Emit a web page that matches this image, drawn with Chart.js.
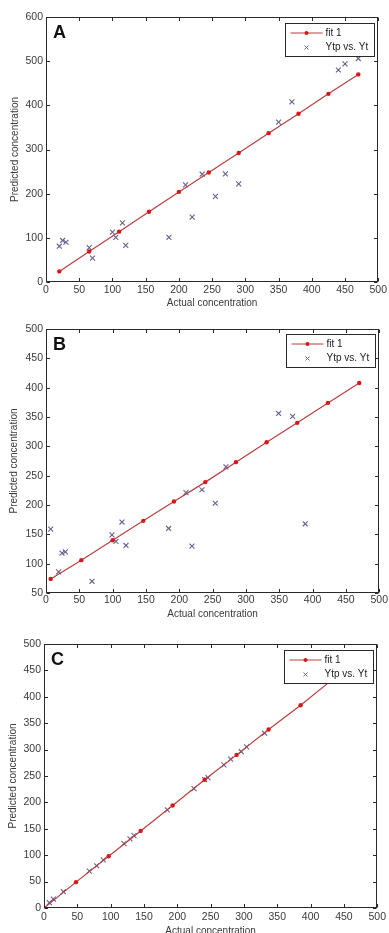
<!DOCTYPE html>
<html>
<head>
<meta charset="utf-8">
<script src="https://cdn.jsdelivr.net/npm/chart.js@4.4.1/dist/chart.umd.min.js"></script>
<style>
  html, body { margin: 0; padding: 0; background: #fff; overflow: hidden; }
  canvas { display: block; }
</style>
</head>
<body>
<canvas id="chart-a" width="389" height="310"></canvas>
<canvas id="chart-b" width="389" height="310"></canvas>
<canvas id="chart-c" width="389" height="320"></canvas>
<script>
const xTicks = [0, 50, 100, 150, 200, 250, 300, 350, 400, 450, 500];

// panel A
const aFitX = [20, 65, 110, 155, 200, 245, 290, 335, 380, 425, 470];
const aFitY = [24, 69, 114, 159, 204, 248, 292, 337, 381, 426, 470];
const aPtX = [20, 25, 30, 65, 70, 100, 105, 115, 120, 185, 210, 220, 235, 255, 270, 290, 350, 370, 440, 450, 470];
const aPtY = [81, 94, 90, 78, 54, 113, 101, 134, 83, 101, 220, 147, 244, 194, 245, 222, 362, 408, 480, 494, 506];

// panel B
const bFitX = [7, 53, 100, 146, 192, 239, 285, 331, 377, 423, 470];
const bFitY = [74, 106, 140, 173, 206, 239, 273, 307, 340, 374, 408];
const bPtX = [7, 19, 24, 29, 69, 99, 105, 114, 120, 184, 210, 219, 234, 254, 270, 349, 370, 389];
const bPtY = [159, 86, 118, 120, 70, 149, 138, 171, 131, 160, 221, 130, 226, 203, 265, 356, 351, 168];

// panel C
const cFitX = [0, 48, 97, 145, 193, 241, 289, 337, 385, 433, 481];
const cFitY = [0, 49, 98, 146, 194, 243, 290, 338, 384, 433, 481];
const cPtX = [8, 14, 29, 68, 79, 89, 120, 129, 135, 185, 225, 241, 246, 270, 280, 296, 304, 331];
const cPtY = [10, 17, 31, 70, 80, 91, 122, 131, 137, 186, 226, 243, 247, 271, 282, 296, 305, 331];

const fitLabel = 'fit 1';
const ptLabel = 'Ytp vs. Yt';

const FONT = 'Arial, "Liberation Sans", sans-serif';
const TEXT = '#3a3a3a';
const LINE_RED = '#b8403f';
const DOT_RED = '#d81818';
const CROSS = '#666090';

function toPoints(xs, ys) {
  return xs.map((x, i) => ({ x: x, y: ys[i] }));
}

// box, inward ticks, panel letter and matlab-like legend
const matlabFrame = {
  id: 'matlabFrame',
  afterDatasetsDraw(chart, args, opts) {
    const ctx = chart.ctx;
    const a = chart.chartArea;
    const L = Math.round(a.left) + 0.5;
    const R = Math.round(a.right) - 0.5;
    const T = Math.round(a.top) + 0.5;
    const B = Math.round(a.bottom) - 0.5;
    ctx.save();
    ctx.strokeStyle = '#2a2a2a';
    ctx.lineWidth = 1;
    ctx.strokeRect(L, T, R - L, B - T);

    const tl = 3.5;
    ctx.beginPath();
    chart.scales.x.ticks.forEach(t => {
      const px = Math.round(chart.scales.x.getPixelForValue(t.value)) + 0.5;
      ctx.moveTo(px, B); ctx.lineTo(px, B - tl);
      ctx.moveTo(px, T); ctx.lineTo(px, T + tl);
    });
    chart.scales.y.ticks.forEach(t => {
      const py = Math.round(chart.scales.y.getPixelForValue(t.value)) + 0.5;
      ctx.moveTo(L, py); ctx.lineTo(L + tl, py);
      ctx.moveTo(R, py); ctx.lineTo(R - tl, py);
    });
    ctx.stroke();

    // panel letter
    ctx.fillStyle = '#111';
    ctx.font = 'bold 18px ' + FONT;
    ctx.textBaseline = 'middle';
    ctx.textAlign = 'left';
    ctx.fillText(opts.tag, a.left + 7, a.top + 16);

    // legend
    const w = 89, h = 33;
    const bx = Math.round(a.right - 4 - w) + 0.5;
    const by = Math.round(a.top + opts.legendTop) + 0.5;
    ctx.fillStyle = '#fff';
    ctx.fillRect(bx, by, w, h);
    ctx.strokeStyle = '#2a2a2a';
    ctx.strokeRect(bx, by, w, h);

    const ds = chart.data.datasets;
    const y1 = by + 9.5, y2 = by + 24;
    ctx.strokeStyle = LINE_RED;
    ctx.beginPath();
    ctx.moveTo(bx + 5, y1); ctx.lineTo(bx + 37, y1);
    ctx.stroke();
    ctx.fillStyle = DOT_RED;
    ctx.beginPath();
    ctx.arc(bx + 21, y1, 2, 0, Math.PI * 2);
    ctx.fill();

    ctx.strokeStyle = CROSS;
    ctx.beginPath();
    ctx.moveTo(bx + 19, y2 - 2); ctx.lineTo(bx + 23, y2 + 2);
    ctx.moveTo(bx + 23, y2 - 2); ctx.lineTo(bx + 19, y2 + 2);
    ctx.stroke();

    ctx.fillStyle = '#222';
    ctx.font = '10px ' + FONT;
    ctx.fillText(ds[0].label, bx + 40, y1);
    ctx.fillText(ds[1].label, bx + 40, y2);
    ctx.restore();
  }
};

function makeChart(id, cfg) {
  const canvas = document.getElementById(id);
  const H = canvas.height;
  return new Chart(canvas, {
    type: 'scatter',
    data: {
      datasets: [
        {
          label: fitLabel,
          data: toPoints(cfg.fitX, cfg.fitY),
          showLine: true,
          borderColor: LINE_RED,
          borderWidth: 1.2,
          pointRadius: 2.2,
          pointBackgroundColor: DOT_RED,
          pointBorderColor: DOT_RED,
          pointBorderWidth: 0
        },
        {
          label: ptLabel,
          data: toPoints(cfg.ptX, cfg.ptY),
          pointStyle: 'crossRot',
          pointRadius: 3.5,
          borderColor: CROSS,
          pointBorderWidth: 1.1
        }
      ]
    },
    options: {
      responsive: false,
      animation: false,
      events: [],
      layout: { padding: { top: cfg.top, right: 389 - cfg.right, left: 0, bottom: 0 } },
      plugins: {
        legend: { display: false },
        tooltip: { enabled: false },
        matlabFrame: { tag: cfg.tag, legendTop: cfg.legendTop }
      },
      scales: {
        x: {
          type: 'linear',
          min: 0,
          max: 500,
          afterBuildTicks: scale => { scale.ticks = xTicks.map(v => ({ value: v })); },
          afterFit: scale => { scale.height = H - cfg.bottom; },
          grid: { display: false, drawTicks: false },
          border: { display: false },
          ticks: { color: TEXT, font: { family: FONT, size: 10.5 }, padding: cfg.xPad, maxRotation: 0, autoSkip: false },
          title: { display: true, text: 'Actual concentration', color: TEXT, font: { family: FONT, size: 10 }, padding: { top: 0, bottom: cfg.titlePad } }
        },
        y: {
          type: 'linear',
          min: cfg.yTicks[0],
          max: cfg.yTicks[cfg.yTicks.length - 1],
          afterBuildTicks: scale => { scale.ticks = cfg.yTicks.map(v => ({ value: v })); },
          afterFit: scale => { scale.width = cfg.left; },
          grid: { display: false, drawTicks: false },
          border: { display: false },
          ticks: { color: TEXT, font: { family: FONT, size: 10.5 }, padding: 3, autoSkip: false },
          title: { display: true, text: 'Predicted concentration', color: TEXT, font: { family: FONT, size: 10 }, padding: { top: cfg.yTitlePad, bottom: 0 } }
        }
      }
    },
    plugins: [matlabFrame]
  });
}

makeChart('chart-a', {
  tag: 'A', fitX: aFitX, fitY: aFitY, ptX: aPtX, ptY: aPtY,
  yTicks: [0, 100, 200, 300, 400, 500, 600],
  left: 46, right: 381, top: 17, bottom: 282, legendTop: 6,
  xPad: 2, titlePad: 1, yTitlePad: 9
});

makeChart('chart-b', {
  tag: 'B', fitX: bFitX, fitY: bFitY, ptX: bPtX, ptY: bPtY,
  yTicks: [50, 100, 150, 200, 250, 300, 350, 400, 450, 500],
  left: 46, right: 381, top: 19, bottom: 283, legendTop: 5,
  xPad: 1, titlePad: 0, yTitlePad: 8
});

makeChart('chart-c', {
  tag: 'C', fitX: cFitX, fitY: cFitY, ptX: cPtX, ptY: cPtY,
  yTicks: [0, 50, 100, 150, 200, 250, 300, 350, 400, 450, 500],
  left: 44, right: 379, top: 24, bottom: 288, legendTop: 6,
  xPad: 3, titlePad: 3, yTitlePad: 7
});
</script>
</body>
</html>
